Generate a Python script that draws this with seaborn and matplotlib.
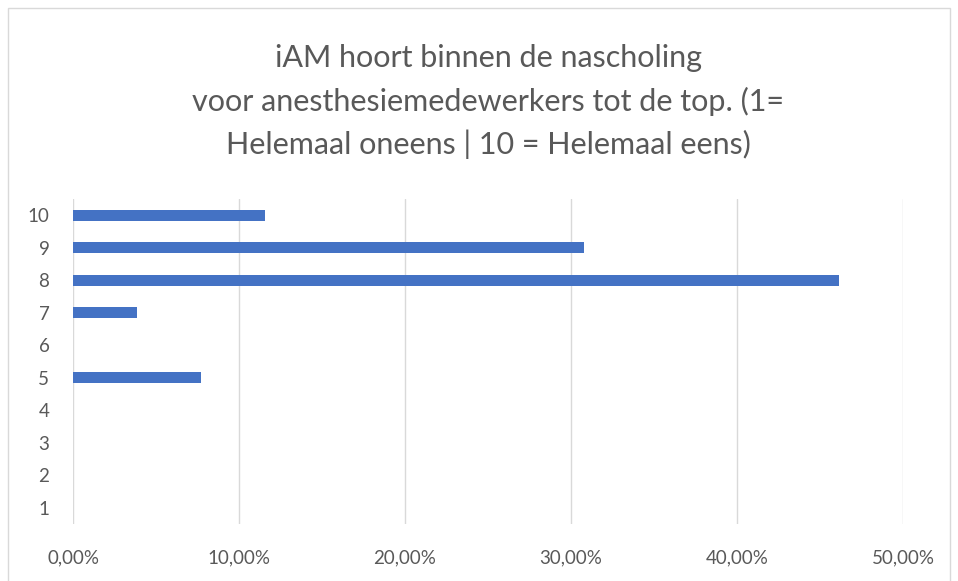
import seaborn as sns
import pandas as pd
import matplotlib.pyplot as plt
from matplotlib.patches import Rectangle
from matplotlib.ticker import FuncFormatter

categories = ['10', '9', '8', '7', '6', '5', '4', '3', '2', '1']
shares = [0.1154, 0.3077, 0.4615, 0.0385, 0.0, 0.0769, 0.0, 0.0, 0.0, 0.0]
title_lines = ['iAM hoort binnen de nascholing',
               'voor anesthesiemedewerkers tot de top. (1=',
               'Helemaal oneens | 10 = Helemaal eens)']

df = pd.DataFrame({'score': categories, 'share': shares})

sns.set_style('white')
plt.rcParams['font.family'] = ['Lato', 'DejaVu Sans']

W, H = 958, 581
fig = plt.figure(figsize=(W / 100, H / 100), dpi=100)
ax = fig.add_axes([73 / W, 1 - 524 / H, 830 / W, 325 / H])

sns.barplot(df, x='share', y='score', order=categories, orient='h',
            color='#4472C4', saturation=1, width=0.34, linewidth=0, ax=ax)

ax.set_xlim(0, 0.5)
ax.set_xticks([0, 0.1, 0.2, 0.3, 0.4, 0.5])
ax.xaxis.set_major_formatter(FuncFormatter(lambda v, p: f'{v * 100:.2f}%'.replace('.', ',')))
ax.grid(axis='x', color='#D9D9D9', linewidth=1)
ax.set_axisbelow(True)
for s in ax.spines.values():
    s.set_visible(False)
ax.set_xlabel('')
ax.set_ylabel('')
ax.tick_params(axis='both', length=0, labelsize=13.5, labelcolor='#595959')
ax.tick_params(axis='x', pad=18)
ax.tick_params(axis='y', pad=17)

for i, line in enumerate(title_lines):
    fig.text(488 / W, 1 - (58 + 43 * i) / H, line, ha='center', va='center',
             fontsize=22, color='#595959')

fig.patches.append(Rectangle((8 / W, -0.01), 942 / W, 1 - 8 / H + 0.01,
                             transform=fig.transFigure, fill=False,
                             edgecolor='#D9D9D9', linewidth=1))

fig.savefig('out.png', dpi=100)
